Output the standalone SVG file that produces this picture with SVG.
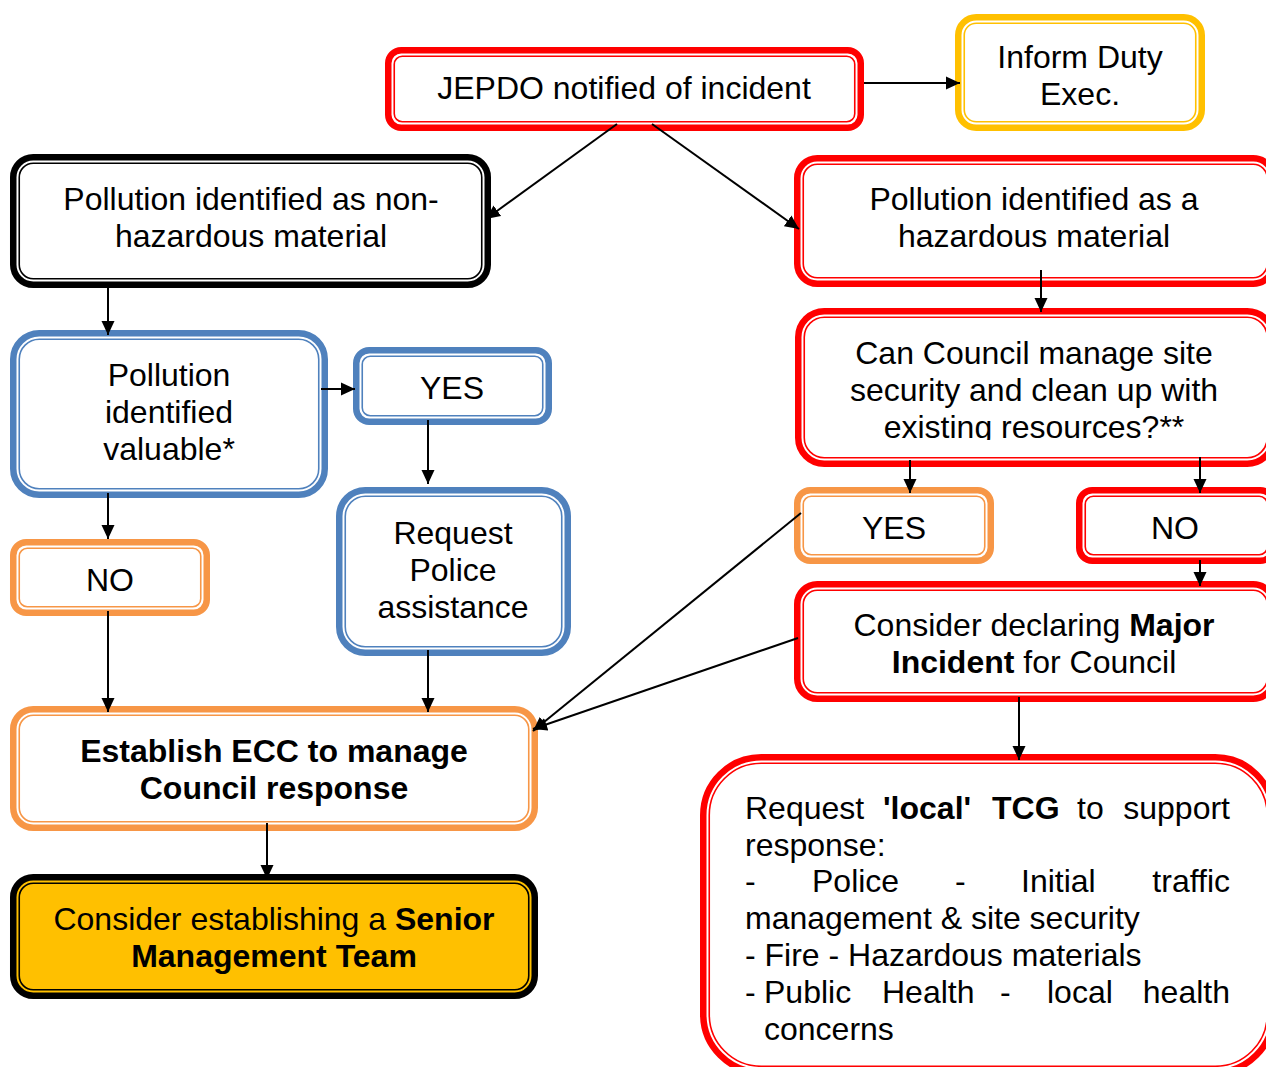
<svg xmlns="http://www.w3.org/2000/svg" width="1266" height="1067" viewBox="0 0 1266 1067">
<style>
text{font-family:"Liberation Sans",Arial,sans-serif;font-size:32px;fill:#000}
.c{text-anchor:middle}
.b{font-weight:bold}
.o{stroke-width:6.5;fill:#fff}
.i{stroke-width:1.6;fill:none}
.red{stroke:#FF0000}
.org{stroke:#F79646}
.blu{stroke:#4F81BD}
.yel{stroke:#FFC000}
.blk{stroke:#000}
.conn line{stroke:#000;stroke-width:2;marker-end:url(#ah)}
</style>
<defs>
<marker id="ah" markerUnits="userSpaceOnUse" markerWidth="14" markerHeight="14" refX="14" refY="7" orient="auto">
<path d="M0,0.5 L14,7 L0,13.5 z" fill="#000"/>
</marker>
<clipPath id="clipCC"><rect x="790" y="300" width="480" height="140"/></clipPath>
</defs>
<rect width="1266" height="1067" fill="#fff"/>

<g id="jepdo">
<rect class="o red" x="388.25" y="50.25" width="472.5" height="77.5" rx="13"/>
<rect class="i red" x="394.25" y="56.25" width="460.5" height="65.5" rx="8"/>
<text class="c" x="624" y="99">JEPDO notified of incident</text>
</g>

<g id="inform">
<rect class="o yel" x="958.25" y="17.25" width="243.5" height="110.5" rx="18"/>
<rect class="i yel" x="964.25" y="23.25" width="231.5" height="98.5" rx="12"/>
<text class="c" x="1080" y="68">Inform Duty</text>
<text class="c" x="1080" y="105">Exec.</text>
</g>

<g id="nonhaz">
<rect class="o blk" x="13.25" y="157.25" width="474.5" height="127.5" rx="20"/>
<rect class="i blk" x="19.25" y="163.25" width="462.5" height="115.5" rx="14"/>
<text class="c" x="251" y="210">Pollution identified as non-</text>
<text class="c" x="251" y="247">hazardous material</text>
</g>

<g id="haz">
<rect class="o red" x="797.25" y="158.25" width="476" height="125.5" rx="20"/>
<rect class="i red" x="803.25" y="164.25" width="464" height="113.5" rx="14"/>
<text class="c" x="1034" y="210">Pollution identified as a</text>
<text class="c" x="1034" y="247">hazardous material</text>
</g>

<g id="valuable">
<rect class="o blu" x="13.25" y="333.25" width="311.5" height="161.5" rx="26"/>
<rect class="i blu" x="19.25" y="339.25" width="299.5" height="149.5" rx="20"/>
<text class="c" x="169" y="386">Pollution</text>
<text class="c" x="169" y="423">identified</text>
<text class="c" x="169" y="460">valuable*</text>
</g>

<g id="yes-left">
<rect class="o blu" x="356.25" y="350.25" width="192.5" height="71.5" rx="13"/>
<rect class="i blu" x="362.25" y="356.25" width="180.5" height="59.5" rx="8"/>
<text class="c" x="452" y="399">YES</text>
</g>

<g id="police">
<rect class="o blu" x="339.25" y="490.25" width="228.5" height="162.5" rx="26"/>
<rect class="i blu" x="345.25" y="496.25" width="216.5" height="150.5" rx="20"/>
<text class="c" x="453" y="544">Request</text>
<text class="c" x="453" y="581">Police</text>
<text class="c" x="453" y="618">assistance</text>
</g>

<g id="no-left">
<rect class="o org" x="13.25" y="542.25" width="193.5" height="70.5" rx="13"/>
<rect class="i org" x="19.25" y="548.25" width="181.5" height="58.5" rx="8"/>
<text class="c" x="110" y="591">NO</text>
</g>

<g id="ecc">
<rect class="o org" x="13.25" y="709.25" width="521.5" height="118.5" rx="20"/>
<rect class="i org" x="19.25" y="715.25" width="509.5" height="106.5" rx="14"/>
<text class="c b" x="274" y="762">Establish ECC to manage</text>
<text class="c b" x="274" y="799">Council response</text>
</g>

<g id="smt">
<rect class="o blk" x="13.25" y="877.25" width="521.5" height="118.5" rx="20" style="fill:#FFC000"/>
<rect class="i blk" x="19.25" y="883.25" width="509.5" height="106.5" rx="14"/>
<text class="c" x="274" y="930">Consider establishing a <tspan class="b">Senior</tspan></text>
<text class="c b" x="274" y="967">Management Team</text>
</g>

<g id="council">
<rect class="o red" x="798.25" y="311.25" width="475" height="152.5" rx="26"/>
<rect class="i red" x="804.25" y="317.25" width="463" height="140.5" rx="20"/>
<text class="c" x="1034" y="364">Can Council manage site</text>
<text class="c" x="1034" y="401">security and clean up with</text>
<text class="c" x="1034" y="438" clip-path="url(#clipCC)">existing resources?**</text>
</g>

<g id="yes-right">
<rect class="o org" x="797.25" y="490.25" width="193.5" height="70.5" rx="13"/>
<rect class="i org" x="803.25" y="496.25" width="181.5" height="58.5" rx="8"/>
<text class="c" x="894" y="539">YES</text>
</g>

<g id="no-right">
<rect class="o red" x="1079.25" y="490.25" width="194" height="70.5" rx="13"/>
<rect class="i red" x="1085.25" y="496.25" width="182" height="58.5" rx="8"/>
<text class="c" x="1175" y="539">NO</text>
</g>

<g id="major">
<rect class="o red" x="797.25" y="584.25" width="476" height="114.5" rx="20"/>
<rect class="i red" x="803.25" y="590.25" width="464" height="102.5" rx="14"/>
<text class="c" x="1034" y="636">Consider declaring <tspan class="b">Major</tspan></text>
<text class="c" x="1034" y="673"><tspan class="b">Incident</tspan> for Council</text>
</g>

<g id="tcg">
<rect class="o red" x="703.25" y="757.25" width="570" height="315" rx="58"/>
<rect class="i red" x="709.25" y="763.25" width="558" height="303" rx="52"/>
<text y="819"><tspan x="745">Request</tspan><tspan x="883" class="b">'local'</tspan><tspan x="992" class="b">TCG</tspan><tspan x="1077">to</tspan><tspan x="1230" style="text-anchor:end">support</tspan></text>
<text x="745" y="856">response:</text>
<text y="892"><tspan x="745">-</tspan><tspan x="812">Police</tspan><tspan x="955">-</tspan><tspan x="1021">Initial</tspan><tspan x="1230" style="text-anchor:end">traffic</tspan></text>
<text x="745" y="929">management &amp; site security</text>
<text x="745" y="966">- Fire - Hazardous materials</text>
<text y="1003"><tspan x="745">-</tspan><tspan x="764">Public</tspan><tspan x="882">Health</tspan><tspan x="1000">-</tspan><tspan x="1047">local</tspan><tspan x="1230" style="text-anchor:end">health</tspan></text>
<text x="764" y="1040">concerns</text>
</g>

<g id="connectors" class="conn">
<line x1="864" y1="83" x2="960" y2="83"/>
<line x1="617" y1="124" x2="486" y2="219"/>
<line x1="652" y1="124" x2="799" y2="229"/>
<line x1="108" y1="288" x2="108" y2="335"/>
<line x1="1041" y1="270" x2="1041" y2="312"/>
<line x1="321" y1="389" x2="355" y2="389"/>
<line x1="428" y1="420" x2="428" y2="484"/>
<line x1="108" y1="493" x2="108" y2="539"/>
<line x1="108" y1="611" x2="108" y2="712"/>
<line x1="428" y1="650" x2="428" y2="712"/>
<line x1="910" y1="460" x2="910" y2="493"/>
<line x1="1200" y1="457" x2="1200" y2="493"/>
<line x1="1200" y1="560" x2="1200" y2="586"/>
<line x1="801" y1="513" x2="533" y2="731"/>
<line x1="798" y1="638" x2="533" y2="729"/>
<line x1="1019" y1="697" x2="1019" y2="760"/>
<line x1="267" y1="823" x2="267" y2="879"/>
</g>
</svg>
